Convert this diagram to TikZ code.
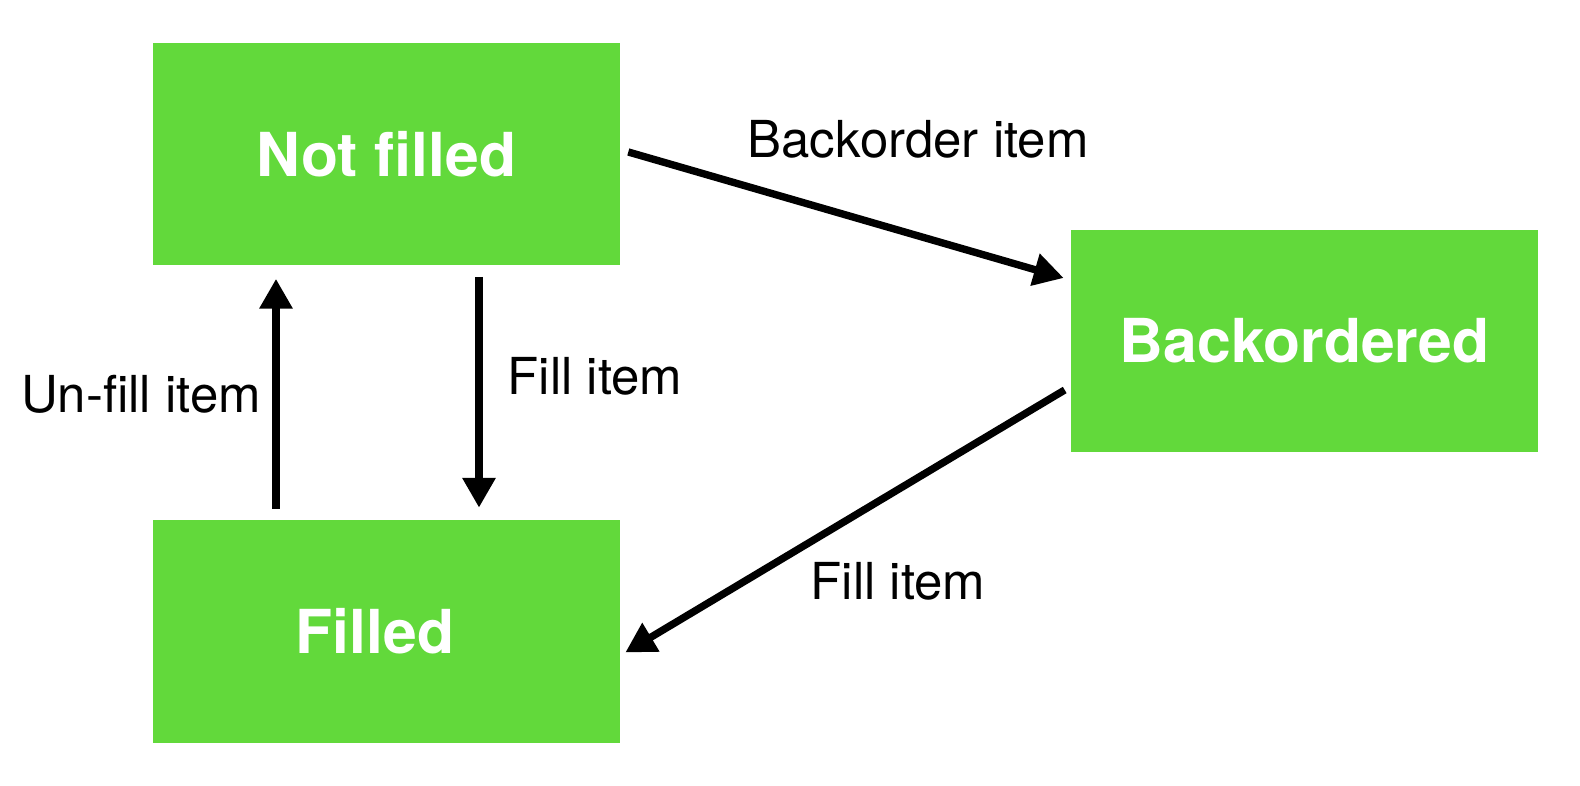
\documentclass[tikz,border=0pt]{standalone}
\usepackage{fontspec}
\setmainfont{TeX Gyre Heros}
\usepackage{xcolor}
\usetikzlibrary{calc,arrows.meta}

\definecolor{stategreen}{RGB}{98,217,59}

\begin{document}
\begin{tikzpicture}[x=0.02cm,y=-0.02cm,
                    state/.style={fill=stategreen,text=white,inner sep=0pt,
                                  minimum width=9.34cm,minimum height=4.46cm,
                                  font=\fontsize{34.5}{38}\selectfont\bfseries},
                    trans/.style={line width=4.2pt,
                                  -{Triangle[width=18pt,length=17pt]}},
                    lbl/.style={font=\fontsize{29}{33}\selectfont}]
        % frame
        \useasboundingbox (0,0) rectangle (1580,786);
        % states
        \node[state] (notfilled) at (386.5,154)  {Not filled};
        \node[state] (filled)    at (386.5,631.5) {\hspace*{-13pt}Filled};
        \node[state] (backord)   at (1304.5,341) {Backordered};
        % transitions
        \draw[trans] ($(notfilled.south)+(92.5,11)$) -- ($(filled.north)+(92.5,-12)$);
        \draw[trans] ($(filled.north)+(-110.5,-11)$) -- ($(notfilled.south)+(-110.5,13)$);
        \draw[trans] ($(notfilled.east)+(8,-2)$) -- ($(backord.west)+(-7,-63)$);
        \draw[trans] ($(backord.west)+(-6,49)$) -- ($(filled.east)+(5,21)$);
        % transition labels
        \node[lbl] (lfill)    at (595,376) {Fill item};
        \node[lbl] (lunfill)  at (141,394) {Un-fill item};
        \node[lbl] (lback)    at (918,139) {Backorder item};
        \node[lbl] (lfillbo)  at (898,581) {Fill item};
\end{tikzpicture}
\end{document}
